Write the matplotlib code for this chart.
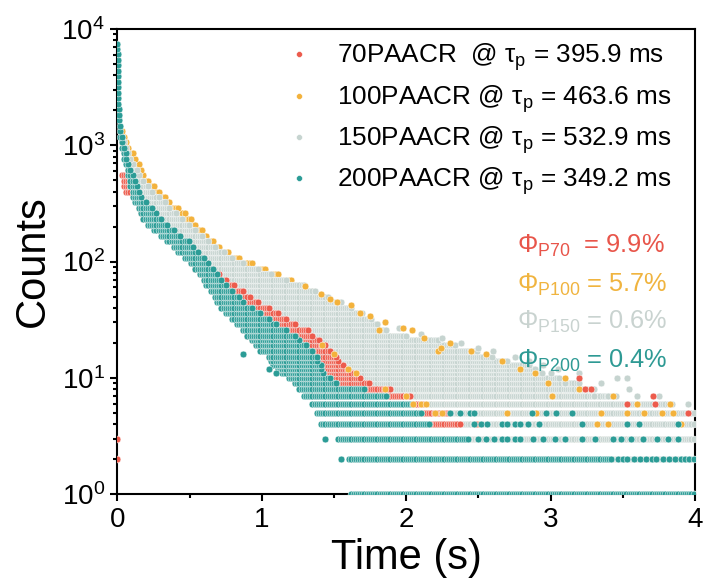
import numpy as np
import matplotlib
matplotlib.use('Agg')
import matplotlib.pyplot as plt
from matplotlib.ticker import MultipleLocator, LogLocator, NullFormatter, LogFormatterMathtext

plt.rcParams['font.family'] = ['Liberation Sans', 'DejaVu Sans']
plt.rcParams['mathtext.fontset'] = 'custom'
plt.rcParams['mathtext.rm'] = 'Liberation Sans'
plt.rcParams['mathtext.it'] = 'Liberation Sans:italic'
plt.rcParams['mathtext.bf'] = 'Liberation Sans:bold'

# ---------------- data ----------------
SERIES = ['70PAACR', '100PAACR', '150PAACR', '200PAACR']
SAMPLE_NUM = [70, 100, 150, 200]
TAU_MS = [395.9, 463.6, 532.9, 349.2]
PHI_PCT = [9.9, 5.7, 0.6, 0.4]
COLORS = ['#EC5B4C', '#F3B23C', '#C6D4D0', '#2B9C96']
PHI_COLORS = ['#E8554A', '#F0B43F', '#C9D3D0', '#2E9A94']

DT = 0.015   # sampling step of the decay trace (s)

# count levels (photon counts per channel)
LEVELS = [1, 2, 3, 4, 5, 6, 7, 8, 9, 10, 11, 12, 13, 14, 15,
          17, 19, 21, 23, 26, 29, 32, 36, 40, 45, 50, 56, 63, 70, 78,
          87, 97, 108, 120, 134, 150, 167, 186, 208, 232, 259, 289, 322, 359, 400,
          446, 497, 554, 618, 689, 768, 856, 954, 1063, 1185, 1321, 1472, 1641, 1829, 2039,
          2272, 2533, 2823, 3147, 3507, 3909, 4357, 4857, 5413, 6034, 6725, 7496]

# for each count level: first and last time (s) at which the trace sits at that level
TEAL_START = [1.62, 1.60, 1.52, 1.41, 1.37, 1.34, 1.28, 1.26, 1.22, 1.18, 1.14, 1.11, 1.08, 1.06, 1.04,
              0.99, 0.95, 0.92, 0.89, 0.86, 0.82, 0.79, 0.75, 0.72, 0.69, 0.67, 0.645, 0.61, 0.59, 0.56,
              0.53, 0.50, 0.46, 0.42, 0.38, 0.34, 0.30, 0.25, 0.20, 0.175, 0.155, 0.138, 0.12, 0.105, 0.095,
              0.085, 0.077, 0.069, 0.062, 0.054, 0.044, 0.034, 0.024, 0.018, 0.013, 0.011, 0.009, 0.008, 0.007, 0.006,
              0.005, 0.005, 0.004, 0.004, 0.003, 0.003, 0.002, 0.002, 0.001, 0.001, 0.0, 0.0]
TEAL_END = [4.0, 3.43, 2.44, 2.16, 2.10, 2.05, 1.87, 1.71, 1.52, 1.48, 1.43, 1.42, 1.41, 1.39, 1.38,
            1.35, 1.31, 1.26, 1.23, 1.17, 1.10, 1.06, 1.00, 0.94, 0.88, 0.84, 0.80, 0.76, 0.72, 0.69,
            0.66, 0.635, 0.60, 0.565, 0.53, 0.50, 0.44, 0.40, 0.35, 0.31, 0.28, 0.24, 0.20, 0.175, 0.155,
            0.138, 0.124, 0.11, 0.098, 0.088, 0.074, 0.062, 0.05, 0.04, 0.03, 0.022, 0.015, 0.013, 0.012, 0.010,
            0.009, 0.009, 0.008, 0.008, 0.007, 0.007, 0.006, 0.006, 0.005, 0.005, 0.004, 0.004]

RED_START = [1.70, 1.62, 1.55, 1.45, 1.40, 1.36, 1.30, 1.27, 1.23, 1.19, 1.15, 1.12, 1.09, 1.07, 1.05,
             1.00, 0.96, 0.93, 0.90, 0.87, 0.83, 0.80, 0.76, 0.73, 0.70, 0.68, 0.655, 0.62, 0.60, 0.57,
             0.54, 0.51, 0.47, 0.43, 0.39, 0.35, 0.31, 0.26, 0.205, 0.18, 0.16, 0.143, 0.125, 0.11, 0.06,
             0.045, 0.035, 0.03, 0.072, 0.064, 0.054, 0.044, 0.034, 0.028]
RED_END = [3.5, 3.0, 2.40, 2.37, 2.30, 2.12, 2.03, 1.89, 1.75, 1.68, 1.65, 1.60, 1.57, 1.54, 1.52,
           1.48, 1.45, 1.40, 1.36, 1.32, 1.24, 1.18, 1.12, 1.06, 0.98, 0.92, 0.87, 0.81, 0.76, 0.71,
           0.67, 0.64, 0.60, 0.565, 0.53, 0.50, 0.44, 0.40, 0.35, 0.31, 0.28, 0.24, 0.20, 0.17, 0.15,
           0.13, 0.116, 0.10, 0.088, 0.078, 0.064, 0.052, 0.04, 0.032]

GRAY_START = [1.65, 1.63, 1.55, 1.44, 1.40, 1.37, 1.31, 1.29, 1.25, 1.21, 1.17, 1.14, 1.11, 1.09, 1.07,
              1.02, 0.98, 0.95, 0.92, 0.89, 0.85, 0.82, 0.78, 0.75, 0.72, 0.70, 0.675, 0.64, 0.62, 0.59,
              0.56, 0.53, 0.49, 0.45, 0.41, 0.37, 0.33, 0.28, 0.23, 0.205, 0.185, 0.168, 0.15, 0.135, 0.125,
              0.115, 0.107, 0.099, 0.092, 0.084, 0.074, 0.064, 0.054, 0.04, 0.025]
GRAY_END = [4.0, 4.0, 4.0, 4.0, 4.0, 3.85, 3.45, 3.30, 3.20, 3.06, 2.95, 2.90, 2.85, 2.70, 2.60,
            2.50, 2.35, 2.22, 2.00, 1.87, 1.81, 1.76, 1.70, 1.62, 1.55, 1.46, 1.37, 1.30, 1.18, 1.07,
            0.98, 0.88, 0.80, 0.74, 0.68, 0.63, 0.585, 0.54, 0.50, 0.455, 0.41, 0.37, 0.33, 0.29, 0.25,
            0.21, 0.18, 0.16, 0.135, 0.11, 0.095, 0.078, 0.06, 0.045, 0.03]

ORANGE_START = [1.65, 1.63, 1.55, 1.44, 1.40, 1.37, 1.31, 1.29, 1.25, 1.21, 1.17, 1.14, 1.11, 1.09, 1.07,
                1.02, 0.98, 0.95, 0.92, 0.89, 0.85, 0.82, 0.78, 0.75, 0.72, 0.70, 0.675, 0.64, 0.62, 0.59,
                0.56, 0.53, 0.49, 0.45, 0.41, 0.37, 0.33, 0.28, 0.23, 0.205, 0.185, 0.168, 0.15, 0.135, 0.125,
                0.115, 0.107, 0.099, 0.092, 0.084, 0.074, 0.064, 0.04, 0.03, 0.025, 0.02]
ORANGE_END = [4.0, 3.9, 3.7, 3.5, 3.3, 3.2, 3.1, 3.0, 2.95, 2.9, 2.8, 2.7, 2.6, 2.5, 2.4,
              2.3, 2.2, 2.1, 1.95, 1.85, 1.80, 1.71, 1.66, 1.60, 1.52, 1.44, 1.36, 1.28, 1.20, 1.11,
              1.03, 0.93, 0.84, 0.77, 0.71, 0.66, 0.62, 0.59, 0.55, 0.51, 0.47, 0.43, 0.37, 0.33, 0.295,
              0.26, 0.22, 0.19, 0.17, 0.15, 0.125, 0.11, 0.085, 0.06, 0.05, 0.035]

# isolated points (time s, counts)
RED_STRAY_T = [0.0, 0.0, 3.20, 3.24, 3.28, 3.53, 3.71, 3.72, 3.95, 2.48]
RED_STRAY_C = [3, 2, 10, 8, 8, 6, 7, 6, 5, 4]
ORANGE_STRAY_T = [1.30, 1.41, 1.47, 1.52, 1.62, 1.68, 1.75, 1.81, 1.85, 1.98, 2.04, 2.12, 2.22, 2.24, 2.30,
                  2.45, 2.55, 2.66, 2.79, 2.89, 2.98, 3.01, 3.10, 3.20, 3.32, 3.43, 3.53, 3.77, 3.83, 3.85,
                  1.42, 1.50, 1.60, 1.65, 1.85, 2.00, 2.05, 2.10, 2.14, 2.20,
                  2.25, 2.50, 2.70, 2.90, 3.35, 3.40, 3.60, 3.65, 3.90]
ORANGE_STRAY_C = [62, 53, 48, 45, 42, 36, 34, 26, 30, 27, 26, 22, 17, 18, 20,
                  17, 16, 14, 12, 11, 9, 7, 10, 8, 4, 7, 5, 5, 6, 5,
                  19, 16, 12, 11, 8, 7, 6, 6, 6, 5,
                  5, 4, 5, 5, 5, 4, 6, 5, 4]
GRAY_STRAY_T = [3.30, 3.40, 3.54, 3.35, 3.46, 3.53, 3.20, 3.05, 2.95, 2.85, 3.00, 2.75, 2.60, 2.50, 2.38,
                2.25, 2.10, 1.95, 3.60, 3.75, 3.95, 3.10]
GRAY_STRAY_C = [7, 7, 8, 9, 10, 10, 11, 12, 13, 14, 11, 15, 17, 18, 20,
                22, 24, 27, 7, 7, 6, 9]
TEAL_STRAY_T = [0.87, 1.05, 1.10, 1.44, 1.55,
                2.50, 2.55, 2.61, 2.66, 2.70, 2.75, 2.79, 2.88, 2.95, 3.03, 3.10, 3.22, 3.31, 3.43, 3.49,
                3.56, 3.64, 3.74, 3.81, 3.88,
                2.47, 2.52, 2.56, 2.66, 2.70, 2.75, 2.79, 2.84, 2.92, 3.22, 3.53, 3.61, 3.88,
                2.30, 2.37, 2.44, 2.47, 2.87, 2.97, 3.04, 3.15,
                3.47, 3.50, 3.53, 3.58, 3.62, 3.66, 3.70, 3.73, 3.78, 3.82, 3.86, 3.90, 3.93, 3.96, 3.99]
TEAL_STRAY_C = [16, 12, 11, 3, 2,
                3, 3, 3, 3, 3, 3, 3, 3, 3, 3, 3, 3, 3, 3, 3,
                3, 3, 3, 3, 3,
                4, 4, 4, 4, 4, 4, 4, 4, 4, 4, 4, 4, 4,
                5, 5, 5, 5, 5, 5, 5, 5,
                2, 2, 2, 2, 2, 2, 2, 2, 2, 2, 2, 2, 2, 2, 2]

TIME_GRID = np.round(np.arange(0.0, 4.0 + 1e-9, DT), 4)


def trace_points(levels, starts, ends):
    ts, cs = [], []
    for c, s, e in zip(levels, starts, ends):
        sel = TIME_GRID[(TIME_GRID >= s - 1e-9) & (TIME_GRID <= e + 1e-9)]
        if sel.size == 0:
            sel = np.array([0.5 * (s + e)])
        ts.append(sel)
        cs.append(np.full(sel.size, c, dtype=float))
    return np.concatenate(ts), np.concatenate(cs)


fig = plt.figure(figsize=(7.03, 5.81), dpi=100)
ax = fig.add_axes([0.1671, 0.1497, 0.8215, 0.8004])

MS = 24
EDGE = dict(edgecolors='white', linewidths=0.35)

bands = [
    (1, ORANGE_START, ORANGE_END),
    (2, GRAY_START, GRAY_END),
    (0, RED_START, RED_END),
    (3, TEAL_START, TEAL_END),
]
for z, (idx, st, en) in enumerate(bands):
    t, c = trace_points(LEVELS, st, en)
    ax.scatter(t, c, s=MS, color=COLORS[idx], zorder=2 + z * 0.1, **EDGE)

strays = [
    (2, GRAY_STRAY_T, GRAY_STRAY_C),
    (1, ORANGE_STRAY_T, ORANGE_STRAY_C),
    (0, RED_STRAY_T, RED_STRAY_C),
    (3, TEAL_STRAY_T, TEAL_STRAY_C),
]
for z, (idx, t, c) in enumerate(strays):
    ax.scatter(t, c, s=MS, color=COLORS[idx], zorder=3 + z * 0.1, **EDGE)

ax.set_yscale('log')
ax.set_xlim(0, 4)
ax.set_ylim(1, 1e4)
ax.xaxis.set_major_locator(MultipleLocator(1))
ax.xaxis.set_minor_locator(MultipleLocator(0.5))
ax.yaxis.set_major_locator(LogLocator(base=10, numticks=10))
ax.yaxis.set_minor_locator(LogLocator(base=10, subs=np.arange(2, 10), numticks=50))
ax.yaxis.set_major_formatter(LogFormatterMathtext())
ax.yaxis.set_minor_formatter(NullFormatter())

for sp in ax.spines.values():
    sp.set_linewidth(1.5)
    sp.set_zorder(1)
ax.tick_params(which='both', direction='out', top=False, right=False, width=1.5)
ax.tick_params(which='major', length=5, labelsize=20, pad=4)
ax.tick_params(which='minor', length=3)

ax.set_xlabel('Time (s)', fontsize=30)
ax.set_ylabel('Counts', fontsize=30)
ax.xaxis.set_label_coords(0.5, -0.095)
ax.yaxis.set_label_coords(-0.112, 0.5)

# legend (manual, frameless)
LEG_MARK_X = 0.3143
LEG_TEXT_X = 0.3801
LEG_Y = [0.9462, 0.8559, 0.7677, 0.6796]
for i in range(4):
    sep = '  @ ' if i == 0 else ' @ '
    label = f'{SERIES[i]}{sep}' + r'$\mathregular{\tau_p}$' + f' = {TAU_MS[i]} ms'
    ax.scatter([LEG_MARK_X], [LEG_Y[i]], s=18, color=COLORS[i], transform=ax.transAxes,
               clip_on=False, zorder=5, **EDGE)
    ax.text(LEG_TEXT_X, LEG_Y[i] - 0.0194, label, transform=ax.transAxes,
            fontsize=18.8, ha='left', va='baseline', color='black', zorder=6)

PHI_X = 0.6918
PHI_Y = [0.5183, 0.4344, 0.3548, 0.2710]
for i in range(4):
    sep = '  = ' if i == 0 else ' = '
    label = r'$\mathregular{\Phi_{P' + str(SAMPLE_NUM[i]) + r'}}$' + f'{sep}{PHI_PCT[i]}%'
    ax.text(PHI_X, PHI_Y[i], label, transform=ax.transAxes, fontsize=18.3,
            ha='left', va='baseline', color=PHI_COLORS[i], zorder=6)

fig.savefig('out.png', dpi=100)
